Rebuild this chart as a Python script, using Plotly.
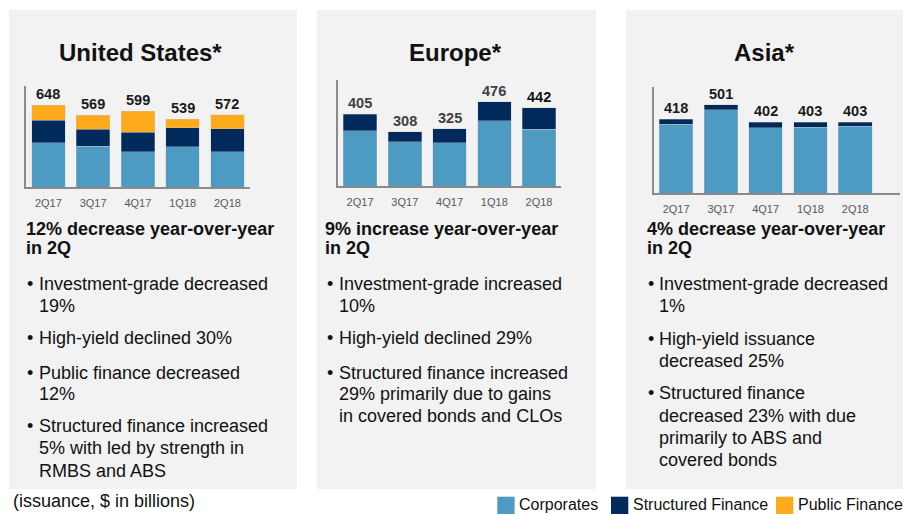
import plotly.graph_objects as go

W, H = 903, 514

quarters = ["2Q17", "3Q17", "4Q17", "1Q18", "2Q18"]
series_names = ["Corporates", "Structured Finance", "Public Finance"]
series_colors = ["#4D9AC3", "#00295C", "#FDAB1C"]

us_corp = [352, 324, 280, 320, 279]
us_sf = [176, 136, 154, 150, 182]
us_pf = [120, 109, 165, 69, 111]

eu_corp = [312, 250, 244, 369, 322]
eu_sf = [93, 58, 81, 107, 120]

asia_corp = [390, 473, 371, 375, 379]
asia_sf = [28, 28, 31, 28, 24]

titles = ["United States*", "Europe*", "Asia*"]
headlines = [
    ["12% decrease year-over-year", "in 2Q"],
    ["9% increase year-over-year", "in 2Q"],
    ["4% decrease year-over-year", "in 2Q"],
]
bullets = [
    [["Investment-grade decreased", "19%"],
     ["High-yield declined 30%"],
     ["Public finance decreased", "12%"],
     ["Structured finance increased", "5% with led by strength in", "RMBS and ABS"]],
    [["Investment-grade increased", "10%"],
     ["High-yield declined 29%"],
     ["Structured finance increased", "29% primarily due to gains", "in covered bonds and CLOs"]],
    [["Investment-grade decreased", "1%"],
     ["High-yield issuance", "decreased 25%"],
     ["Structured finance", "decreased 23% with due", "primarily to ABS and", "covered bonds"]],
]
footnote = "(issuance, $ in billions)"

FONT = "Arial, Liberation Sans, sans-serif"

def px(x):
    return x / W

def py(y):
    return 1 - y / H

fig = go.Figure()

regions = [
    dict(data=[us_corp, us_sf, us_pf], ax="", xdom=(26, 249.8), ydom=(86, 187.3), yr=800, xr=(-0.5, 4.5),
         lblcol=["#1a1a1a"] * 5),
    dict(data=[eu_corp, eu_sf], ax="2", xdom=(337.7, 561.4), ydom=(80, 186), yr=600, xr=(-0.5, 4.5),
         lblcol=["#404040", "#404040", "#404040", "#404040", "#111111"]),
    dict(data=[asia_corp, asia_sf], ax="3", xdom=(653.7, 900), ydom=(87.3, 193.3), yr=600, xr=(-0.5, 5.0),
         lblcol=["#1a1a1a"] * 5),
]

annotations = []
for i, r in enumerate(regions):
    for j, vals in enumerate(r["data"]):
        fig.add_trace(go.Bar(
            x=quarters, y=vals, name=series_names[j],
            marker=dict(color=series_colors[j], line=dict(width=0.6, color="rgba(200,200,200,0.6)")),
            xaxis="x" + r["ax"], yaxis="y" + r["ax"], showlegend=False,
            hoverinfo="x+y+name",
        ))
    totals = [sum(v) for v in zip(*r["data"])]
    for k, q in enumerate(quarters):
        annotations.append(dict(
            x=q, y=totals[k], xref="x" + r["ax"], yref="y" + r["ax"],
            text="<b>%d</b>" % totals[k], showarrow=False, yanchor="bottom", yshift=1,
            font=dict(family=FONT, size=14.5, color=r["lblcol"][k]),
        ))

axis_common = dict(showgrid=False, zeroline=False, showline=True, linecolor="#8a8a8a", linewidth=1.5)
layout = dict(
    width=W, height=H, margin=dict(l=0, r=0, t=0, b=0),
    paper_bgcolor="white", plot_bgcolor="rgba(0,0,0,0)",
    barmode="stack", bargap=0.25, showlegend=False,
    font=dict(family=FONT),
)
for r in regions:
    xa = "xaxis" + r["ax"]
    ya = "yaxis" + r["ax"]
    layout[xa] = dict(axis_common, domain=[px(r["xdom"][0]), px(r["xdom"][1])],
                      anchor="y" + r["ax"], range=list(r["xr"]), type="category",
                      tickfont=dict(family=FONT, size=11, color="#595959"), ticks="",
                      ticklabelstandoff=5, fixedrange=True)
    layout[ya] = dict(axis_common, domain=[py(r["ydom"][1]), py(r["ydom"][0])],
                      anchor="x" + r["ax"], range=[0, r["yr"]], showticklabels=False,
                      ticks="", fixedrange=True)
fig.update_layout(**layout)

# panel backgrounds
shapes = []
for x0, x1 in [(9, 297), (317, 596), (626, 903)]:
    shapes.append(dict(type="rect", xref="paper", yref="paper", x0=px(x0), x1=px(x1),
                       y0=py(489), y1=py(10), fillcolor="#F2F2F2", line=dict(width=0), layer="below"))

def text_line(x, baseline, txt, size, bold=False, color="#111111", anchor="left"):
    t = "<b>%s</b>" % txt if bold else txt
    annotations.append(dict(
        x=px(x), y=py(baseline + 0.21 * size + 1), xref="paper", yref="paper",
        text=t, showarrow=False, xanchor=anchor, yanchor="bottom",
        font=dict(family=FONT, size=size, color=color),
    ))

# titles
for cx, t in zip([140, 455, 764], titles):
    text_line(cx, 61.7, t, 24, bold=True, anchor="center")

# headlines and bullets
hx = [24, 323.3, 645]
bx = [25, 325, 646]
tx = [36.7, 336.7, 657.3]
bullet_baselines = [
    [[291.7, 313], [345], [380, 401.7], [433.3, 455.5, 478]],
    [[291.7, 313], [345], [380, 401.7, 423.3]],
    [[291.7, 313], [346.7, 368.3], [400.7, 423, 445, 467]],
]
for p in range(3):
    for li, line in enumerate(headlines[p]):
        text_line(hx[p], 236.7 + 18.4 * li, line, 18, bold=True)
    for para, bls in zip(bullets[p], bullet_baselines[p]):
        text_line(bx[p], bls[0], "•", 18)
        for line, bl in zip(para, bls):
            text_line(tx[p], bl, line, 18)

text_line(11, 508.5, footnote, 18)

# legend
leg_sw = [497.3, 611, 776]
for name, col, x0 in zip(series_names, series_colors, leg_sw):
    shapes.append(dict(type="rect", xref="paper", yref="paper", x0=px(x0), x1=px(x0 + 17.3),
                       y0=py(514), y1=py(496.7), fillcolor=col, line=dict(width=0)))
    text_line(x0 + 19.5, 510.5, name, 16)

fig.update_layout(shapes=shapes, annotations=annotations)
fig.write_html("out.html")
